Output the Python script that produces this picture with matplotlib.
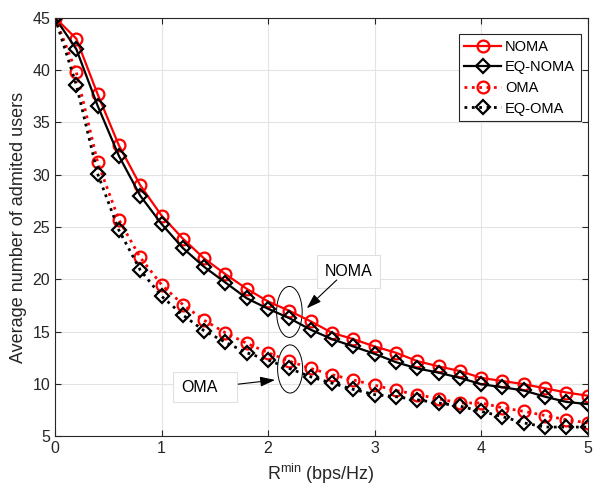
import matplotlib
matplotlib.use("Agg")
import matplotlib.pyplot as plt
from matplotlib.patches import Ellipse, Rectangle

plt.rcParams['font.family'] = ['Liberation Sans', 'DejaVu Sans']

rate = [0, 0.2, 0.4, 0.6, 0.8, 1.0, 1.2, 1.4, 1.6, 1.8, 2.0, 2.2, 2.4, 2.6, 2.8,
        3.0, 3.2, 3.4, 3.6, 3.8, 4.0, 4.2, 4.4, 4.6, 4.8, 5.0]

noma = [45, 43.0, 37.7, 32.8, 29.0, 26.1, 23.9, 22.0, 20.5, 19.1, 17.9, 17.0, 16.0,
        14.9, 14.3, 13.6, 13.0, 12.2, 11.7, 11.25, 10.6, 10.3, 10.0, 9.6, 9.2, 8.9]
eq_noma = [45, 42.0, 36.6, 31.8, 28.0, 25.3, 23.0, 21.2, 19.7, 18.2, 17.2, 16.3, 15.2,
           14.3, 13.6, 12.9, 12.1, 11.5, 11.1, 10.6, 10.0, 9.7, 9.4, 8.8, 8.3, 8.1]
oma = [45, 39.8, 31.2, 25.7, 22.1, 19.5, 17.6, 16.1, 14.9, 13.9, 13.0, 12.2, 11.5,
       10.9, 10.4, 9.9, 9.4, 9.0, 8.6, 8.2, 8.2, 7.75, 7.4, 7.0, 6.6, 6.3]
eq_oma = [45, 38.6, 30.1, 24.7, 20.9, 18.4, 16.6, 15.1, 14.0, 13.0, 12.3, 11.5, 10.7,
          10.1, 9.5, 9.0, 8.8, 8.5, 8.2, 7.9, 7.4, 6.9, 6.3, 5.9, 5.9, 5.9]

fig = plt.figure(figsize=(5.97, 4.91), dpi=100)
ax = fig.add_axes([0.0921, 0.111, 0.8923, 0.853])

ax.plot(rate, noma, 'r-', marker='o', ms=8.5, mfc='none', mew=1.6, lw=1.6, label='NOMA')
ax.plot(rate, eq_noma, 'k-', marker='D', ms=7, mfc='none', mew=1.6, lw=1.6, label='EQ-NOMA')
ax.plot(rate, oma, 'r:', marker='o', ms=8.5, mfc='none', mew=1.6, lw=2, label='OMA')
ax.plot(rate, eq_oma, 'k:', marker='D', ms=7, mfc='none', mew=1.6, lw=2, label='EQ-OMA')

ax.set_xlim(0, 5)
ax.set_ylim(5, 45)
ax.set_xticks([0, 1, 2, 3, 4, 5])
ax.set_yticks([5, 10, 15, 20, 25, 30, 35, 40, 45])
ax.grid(True, color='#e3e3e3', lw=0.8)
ax.set_axisbelow(True)
ax.tick_params(direction='in', top=True, right=True, labelsize=11.5, colors='#262626', length=4)
for s in ax.spines.values():
    s.set_color('#262626')
    s.set_linewidth(0.8)

ax.set_xlabel(r'R$^{\mathregular{min}}$ (bps/Hz)', fontsize=13, color='#262626')
ax.set_ylabel('Average number of admited users', fontsize=13, color='#262626')

leg = ax.legend(loc='upper right', bbox_to_anchor=(0.9875, 0.961), fontsize=10.5,
                fancybox=False, framealpha=1, edgecolor='#262626', borderaxespad=0,
                handlelength=2.5, borderpad=0.4, labelspacing=0.45, handletextpad=0.3)
leg.get_frame().set_linewidth(0.8)

# annotations
ax.add_patch(Ellipse((2.20, 16.9), 0.24, 4.87, fill=False, ec='k', lw=0.7))
ax.add_patch(Ellipse((2.207, 11.45), 0.235, 4.6, fill=False, ec='k', lw=0.7))

ax.add_patch(Rectangle((2.46, 19.15), 0.59, 3.15, fc='white', ec='#e0e0e0', lw=0.8, zorder=3))
ax.add_patch(Rectangle((1.108, 8.3), 0.60, 2.89, fc='white', ec='#e0e0e0', lw=0.8, zorder=3))
ax.text(2.755, 20.74, 'NOMA', fontsize=11.5, ha='center', va='center', zorder=4)
ax.text(1.36, 9.7, 'OMA', fontsize=11.5, ha='center', va='center', zorder=4)

arrow = dict(arrowstyle='-|>,head_length=0.9,head_width=0.3', color='k', lw=0.8,
             shrinkA=0, shrinkB=0)
ax.annotate('', xy=(2.363, 17.24), xytext=(2.645, 19.95), arrowprops=arrow, zorder=4)
ax.annotate('', xy=(2.066, 10.4), xytext=(1.72, 10.0), arrowprops=arrow, zorder=4)

fig.savefig('out.png', dpi=100)
